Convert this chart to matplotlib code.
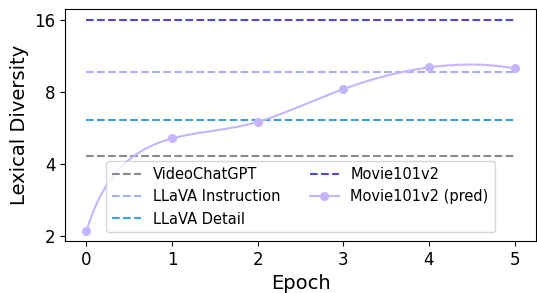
import numpy as np
import matplotlib
matplotlib.use("Agg")
import matplotlib.pyplot as plt

epochs = [0, 1, 2, 3, 4, 5]
pred_values = [2.09, 5.1, 5.98, 8.2, 10.1, 10.0]

baseline_names = ["VideoChatGPT", "LLaVA Instruction", "LLaVA Detail", "Movie101v2"]
baseline_values = [4.30, 9.65, 6.12, 16.0]
baseline_colors = ["#8a8a8a", "#a5b0f5", "#3d9fdb", "#5046e0"]
pred_color = "#c4b5fd"


def not_a_knot_spline(x, y, xs):
    x = np.asarray(x, float)
    y = np.asarray(y, float)
    n = len(x)
    h = np.diff(x)
    A = np.zeros((n, n))
    b = np.zeros(n)
    for i in range(1, n - 1):
        A[i, i - 1] = h[i - 1]
        A[i, i] = 2 * (h[i - 1] + h[i])
        A[i, i + 1] = h[i]
        b[i] = 6 * ((y[i + 1] - y[i]) / h[i] - (y[i] - y[i - 1]) / h[i - 1])
    A[0, 0] = h[1]
    A[0, 1] = -(h[0] + h[1])
    A[0, 2] = h[0]
    A[-1, -3] = h[-1]
    A[-1, -2] = -(h[-2] + h[-1])
    A[-1, -1] = h[-2]
    M = np.linalg.solve(A, b)
    out = np.empty_like(xs)
    for k, xv in enumerate(xs):
        i = min(max(np.searchsorted(x, xv) - 1, 0), n - 2)
        hi = h[i]
        t1 = x[i + 1] - xv
        t0 = xv - x[i]
        out[k] = (M[i] * t1 ** 3 / (6 * hi) + M[i + 1] * t0 ** 3 / (6 * hi)
                  + (y[i] / hi - M[i] * hi / 6) * t1
                  + (y[i + 1] / hi - M[i + 1] * hi / 6) * t0)
    return out


fig = plt.figure(figsize=(5.37, 2.93), dpi=100)
ax = fig.add_axes([0.121, 0.177, 0.877, 0.792])

for name, val, col in zip(baseline_names, baseline_values, baseline_colors):
    ax.plot([epochs[0], epochs[-1]], [val, val], linestyle="--", color=col,
            linewidth=1.5, label=name)

xs = np.linspace(epochs[0], epochs[-1], 300)
ys = not_a_knot_spline(epochs, pred_values, xs)
ax.plot(xs, ys, color=pred_color, linewidth=1.5)
ax.plot(epochs, pred_values, "o", color=pred_color, markersize=5.5)
ax.plot([], [], "-o", color=pred_color, linewidth=1.5, markersize=5.5,
        label="Movie101v2 (pred)")

ax.set_yscale("log", base=2)
ax.set_yticks([2, 4, 8, 16])
ax.set_yticklabels(["2", "4", "8", "16"])
ax.minorticks_off()
ax.set_ylim(1.9, 17.7)
ax.set_xlim(-0.25, 5.25)
ax.set_xticks(epochs)
ax.tick_params(labelsize=12)
ax.set_xlabel("Epoch", fontsize=14)
ax.set_ylabel("Lexical Diversity", fontsize=14)

ax.legend(ncol=2, loc="lower center", fontsize=10.5, borderaxespad=0.6)

fig.savefig("out.png", dpi=100)
